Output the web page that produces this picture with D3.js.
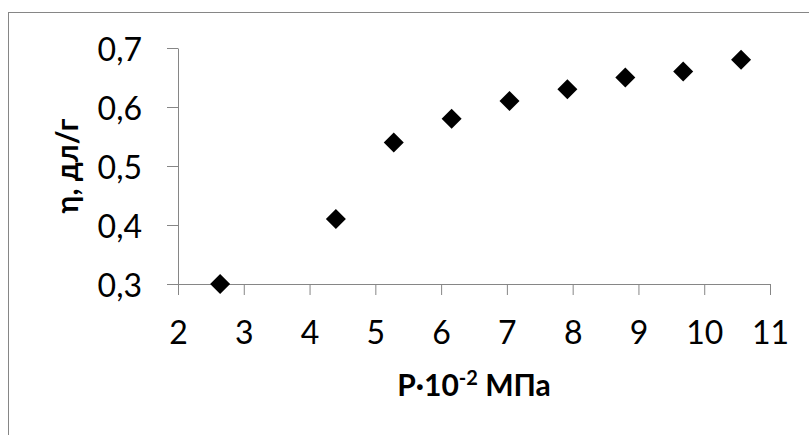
<!DOCTYPE html>
<html>
<head>
<meta charset="utf-8">
<script src="https://cdn.jsdelivr.net/npm/d3@7"></script>
<style>
  html, body { margin: 0; padding: 0; background: #fff; }
  svg { display: block; }
  .tick text { font-family: Lato, "Open Sans", sans-serif; font-size: 32px; fill: #000; }
  .axis path, .axis line { stroke: #868686; stroke-width: 1px; }
  .title { font-family: Lato, "Open Sans", sans-serif; font-weight: bold; font-size: 30px; fill: #000; }
</style>
</head>
<body>
<svg id="chart" width="809" height="435"></svg>
<script>
// data
const pressure = [2.64, 4.40, 5.28, 6.16, 7.04, 7.92, 8.80, 9.68, 10.56];
const viscosity = [0.30, 0.41, 0.54, 0.58, 0.61, 0.63, 0.65, 0.66, 0.68];
const xTicks = [2, 3, 4, 5, 6, 7, 8, 9, 10, 11];
const yTicks = [0.3, 0.4, 0.5, 0.6, 0.7];

const svg = d3.select("#chart");

/* ===== frame ===== */
svg.append("rect")
  .attr("x", 8.5).attr("y", 12.5)
  .attr("width", 900).attr("height", 500)
  .attr("fill", "none")
  .attr("stroke", "#868686");

/* ===== scales ===== */
const x = d3.scaleLinear().domain([2, 11]).range([178, 770]);
const y = d3.scaleLinear().domain([0.3, 0.7]).range([284, 48]);

/* ===== axes ===== */
const fmt = d => d3.format(".1f")(d).replace(".", ",");

const gx = svg.append("g")
  .attr("class", "axis")
  .attr("transform", "translate(0,284)")
  .call(d3.axisBottom(x).tickValues(xTicks).tickSize(11).tickSizeOuter(0).tickFormat(d3.format("d")));
gx.selectAll(".tick text").attr("dy", null).attr("y", 60);

const gy = svg.append("g")
  .attr("class", "axis")
  .attr("transform", "translate(178,0)")
  .call(d3.axisLeft(y).tickValues(yTicks).tickSize(11).tickSizeOuter(0).tickFormat(fmt));
gy.selectAll(".tick text").attr("dy", null).attr("y", 12).attr("x", -36);

svg.selectAll(".axis").attr("font-family", null).attr("font-size", null);

/* ===== points ===== */
const diamond = d3.symbol(d3.symbolSquare, 200);
svg.append("g")
  .selectAll("path")
  .data(pressure)
  .join("path")
  .attr("d", diamond)
  .attr("transform", (d, i) => `translate(${x(d)},${y(viscosity[i])}) rotate(45)`)
  .attr("fill", "#000");

/* ===== titles ===== */
const xt = svg.append("text")
  .attr("class", "title")
  .attr("x", 474).attr("y", 396)
  .attr("text-anchor", "middle");
xt.append("tspan").text("P·10");
xt.append("tspan").attr("dy", -11).attr("font-size", "20px").text("-2");
xt.append("tspan").attr("dy", 11).text(" МПа");

svg.append("text")
  .attr("class", "title")
  .attr("transform", "translate(78,166) rotate(-90)")
  .attr("text-anchor", "middle")
  .text("η, дл/г");
</script>
</body>
</html>
